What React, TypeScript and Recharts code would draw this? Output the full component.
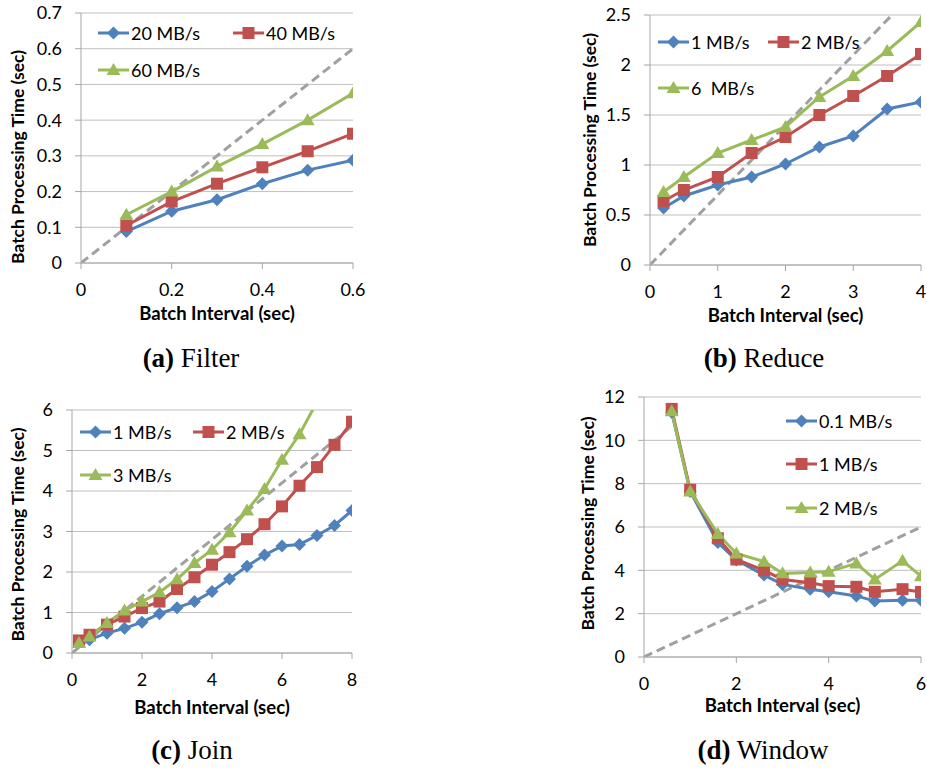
import React from "react";
import {
    LineChart,
    Line,
    XAxis,
    YAxis,
    CartesianGrid,
    Legend,
    ReferenceLine,
    Label,
} from "recharts";

// (a) Filter
const filterX = [0.1, 0.2, 0.3, 0.4, 0.5, 0.6];
const filter20 = [0.088, 0.145, 0.177, 0.222, 0.26, 0.288];
const filter40 = [0.105, 0.172, 0.222, 0.268, 0.313, 0.362];
const filter60 = [0.135, 0.2, 0.27, 0.333, 0.4, 0.475];
const filterGuide = [{ x: 0, y: 0 }, { x: 0.6, y: 0.6 }];

// (b) Reduce
const reduceX = [0.2, 0.5, 1, 1.5, 2, 2.5, 3, 3.5, 4];
const reduce1 = [0.57, 0.69, 0.8, 0.88, 1.01, 1.18, 1.29, 1.56, 1.63];
const reduce2 = [0.64, 0.75, 0.88, 1.12, 1.28, 1.5, 1.69, 1.89, 2.11];
const reduce6 = [0.73, 0.88, 1.12, 1.25, 1.38, 1.68, 1.89, 2.14, 2.43];
const reduceGuide = [{ x: 0, y: 0 }, { x: 4, y: 2.8 }];

// (c) Join
const joinX = [0.2, 0.5, 1, 1.5, 2, 2.5, 3, 3.5, 4, 4.5, 5, 5.5, 6, 6.5, 7, 7.5, 8];
const join1 = [0.28, 0.33, 0.49, 0.61, 0.76, 0.97, 1.12, 1.27, 1.52, 1.83, 2.14, 2.42, 2.64, 2.68, 2.9, 3.15, 3.52];
const join2 = [0.31, 0.45, 0.7, 0.9, 1.11, 1.27, 1.58, 1.87, 2.18, 2.49, 2.81, 3.18, 3.62, 4.13, 4.59, 5.14, 5.71];
const join3 = [0.25, 0.41, 0.74, 1.05, 1.27, 1.5, 1.82, 2.22, 2.55, 2.98, 3.52, 4.05, 4.77, 5.4, 6.2, null, null];
const joinGuide = [{ x: 0, y: 0 }, { x: 8, y: 5.6 }];

// (d) Window
const windowX = [0.6, 1, 1.6, 2, 2.6, 3, 3.6, 4, 4.6, 5, 5.6, 6];
const window01 = [11.3, 7.64, 5.28, 4.48, 3.78, 3.35, 3.13, 3.01, 2.82, 2.58, 2.62, 2.62];
const window1 = [11.45, 7.72, 5.48, 4.5, 4.0, 3.58, 3.43, 3.27, 3.24, 3.01, 3.13, 3.0];
const window2 = [11.34, 7.64, 5.68, 4.78, 4.4, 3.86, 3.9, 3.94, 4.32, 3.58, 4.44, 3.73];
const windowGuide = [{ x: 0, y: 0 }, { x: 6, y: 6 }];

const BLUE = "#4F81BD";
const RED = "#C0504D";
const GREEN = "#9BBB59";
const GRID = "#BFBFBF";
const AXIS = "#A6A6A6";
const GUIDE = "#A0A0A0";

const COLORS: Record<string, string> = { s1: BLUE, s2: RED, s3: GREEN };
const SHAPES: Record<string, string> = { s1: "diamond", s2: "square", s3: "triangle" };

const Marker = ({ cx, cy, shape, color }: any) => {
    if (cx == null || cy == null) return null;
    if (shape === "diamond") {
        return <path d={`M${cx},${cy - 6.5}L${cx + 6.5},${cy}L${cx},${cy + 6.5}L${cx - 6.5},${cy}Z`} fill={color} />;
    }
    if (shape === "square") {
        return <rect x={cx - 6} y={cy - 6} width={12} height={12} fill={color} />;
    }
    return <path d={`M${cx},${cy - 7}L${cx + 7},${cy + 5}L${cx - 7},${cy + 5}Z`} fill={color} />;
};

const dotFor = (key: string) => (p: any) => (
    <Marker key={`${key}-${p.index}`} cx={p.cx} cy={p.cy} shape={SHAPES[key]} color={COLORS[key]} />
);

const makeLegend = (colW: number, rowH: number, cols: number) => ({ payload }: any) => (
    <div style={{ display: "flex", flexWrap: "wrap", width: colW * cols }}>
        {(payload || []).map((entry: any) => (
            <div
                key={entry.dataKey}
                style={{ width: colW, height: rowH, display: "flex", alignItems: "center" }}
            >
                <svg width={32} height={16} style={{ flex: "none" }}>
                    <line x1={0} y1={8} x2={31} y2={8} stroke={COLORS[entry.dataKey]} strokeWidth={3} />
                    <Marker cx={15.5} cy={8} shape={SHAPES[entry.dataKey]} color={COLORS[entry.dataKey]} />
                </svg>
                <span style={{ fontSize: 18, color: "#000", whiteSpace: "pre", marginLeft: 1 }}>
                    {entry.value}
                </span>
            </div>
        ))}
    </div>
);

type PanelProps = {
    left: number;
    top: number;
    width: number;
    height: number;
    margin: { top: number; right: number };
    yWidth: number;
    xHeight: number;
    xs: number[];
    series: (number | null)[][];
    names: string[];
    xDomain: [number, number];
    xTicks: number[];
    yDomain: [number, number];
    yTicks: number[];
    guide: { x: number; y: number }[];
    xTitleOffset: number;
    yTitleDx: number;
    yTitleDy: number;
    legend: { left: number; top: number; colW: number; rowH: number; cols: number };
    overflowKey?: string;
};

const titleStyle = { fontWeight: 700, fontSize: 18.5, fill: "#000" };
const yTitleStyle = { fontWeight: 700, fontSize: 17.5, fill: "#000" };

const Panel = (p: PanelProps) => {
    const data = p.xs.map((x, i) => ({
        x,
        s1: p.series[0][i],
        s2: p.series[1][i],
        s3: p.series[2][i],
    }));
    const keys = ["s1", "s2", "s3"];
    return (
        <div style={{ position: "absolute", left: p.left, top: p.top }}>
            <LineChart
                width={p.width}
                height={p.height}
                data={data}
                margin={{ top: p.margin.top, right: p.margin.right, left: 0, bottom: 0 }}
            >
                <CartesianGrid vertical={false} stroke={GRID} strokeWidth={1} />
                <XAxis
                    dataKey="x"
                    type="number"
                    domain={p.xDomain}
                    ticks={p.xTicks}
                    height={p.xHeight}
                    stroke={AXIS}
                    tickSize={6}
                    tickMargin={14}
                    tick={{ fill: "#000", fontSize: 18 }}
                    allowDataOverflow
                >
                    <Label
                        value="Batch Interval (sec)"
                        position="insideBottom"
                        offset={p.xTitleOffset}
                        style={titleStyle}
                    />
                </XAxis>
                <YAxis
                    type="number"
                    domain={p.yDomain}
                    ticks={p.yTicks}
                    width={p.yWidth}
                    stroke={AXIS}
                    tickSize={6}
                    tickMargin={13}
                    tick={{ fill: "#000", fontSize: 18 }}
                >
                    <Label
                        value="Batch Processing Time (sec)"
                        position="center"
                        angle={-90}
                        dx={p.yTitleDx}
                        dy={p.yTitleDy}
                        style={yTitleStyle}
                    />
                </YAxis>
                <YAxis yAxisId="clip" hide type="number" domain={p.yDomain} allowDataOverflow />
                <ReferenceLine
                    segment={p.guide}
                    ifOverflow="hidden"
                    stroke={GUIDE}
                    strokeWidth={3}
                    strokeDasharray="9 5"
                />
                {keys.map((k, i) => (
                    <Line
                        key={k}
                        dataKey={k}
                        name={p.names[i]}
                        yAxisId={p.overflowKey === k ? "clip" : 0}
                        stroke={COLORS[k]}
                        strokeWidth={3}
                        dot={dotFor(k)}
                        activeDot={false}
                        isAnimationActive={false}
                    />
                ))}
                <Legend
                    layout="horizontal"
                    verticalAlign="middle"
                    align="center"
                    content={makeLegend(p.legend.colW, p.legend.rowH, p.legend.cols)}
                    wrapperStyle={{ left: p.legend.left, top: p.legend.top, width: p.legend.colW * p.legend.cols }}
                />
            </LineChart>
        </div>
    );
};

const Caption = ({ cx, cy, tag, text }: { cx: number; cy: number; tag: string; text: string }) => (
    <div
        style={{
            position: "absolute",
            left: cx - 150,
            top: cy - 16,
            width: 300,
            height: 32,
            lineHeight: "32px",
            textAlign: "center",
            fontFamily: "'Liberation Serif', 'Times New Roman', serif",
            fontSize: 27,
            color: "#000",
        }}
    >
        <b>{tag}</b> {text}
    </div>
);

export default function App() {
    return (
        <div
            style={{
                position: "absolute",
                left: 0,
                top: 0,
                width: 927,
                height: 769,
                background: "#fff",
                fontFamily: "Lato, 'Open Sans', sans-serif",
            }}
        >
            <Panel
                left={0}
                top={0}
                width={370}
                height={330}
                margin={{ top: 13, right: 17 }}
                yWidth={81}
                xHeight={67}
                xs={filterX}
                series={[filter20, filter40, filter60]}
                names={["20 MB/s", "40 MB/s", "60 MB/s"]}
                xDomain={[0, 0.6]}
                xTicks={[0, 0.2, 0.4, 0.6]}
                yDomain={[0, 0.7]}
                yTicks={[0, 0.1, 0.2, 0.3, 0.4, 0.5, 0.6, 0.7]}
                guide={filterGuide}
                xTitleOffset={10}
                yTitleDx={-22.5}
                yTitleDy={19}
                legend={{ left: 98, top: 14.5, colW: 135, rowH: 37, cols: 2 }}
            />
            <Panel
                left={470}
                top={0}
                width={457}
                height={330}
                margin={{ top: 15, right: 6 }}
                yWidth={180}
                xHeight={65}
                xs={reduceX}
                series={[reduce1, reduce2, reduce6]}
                names={["1 MB/s", "2 MB/s", "6  MB/s"]}
                xDomain={[0, 4]}
                xTicks={[0, 1, 2, 3, 4]}
                yDomain={[0, 2.5]}
                yTicks={[0, 0.5, 1, 1.5, 2, 2.5]}
                guide={reduceGuide}
                xTitleOffset={8}
                yTitleDx={30}
                yTitleDy={0}
                legend={{ left: 188, top: 19, colW: 110, rowH: 46, cols: 2 }}
            />
            <Panel
                left={0}
                top={380}
                width={370}
                height={350}
                margin={{ top: 30, right: 18 }}
                yWidth={72}
                xHeight={77}
                xs={joinX}
                series={[join1, join2, join3]}
                names={["1 MB/s", "2 MB/s", "3 MB/s"]}
                xDomain={[0, 8]}
                xTicks={[0, 2, 4, 6, 8]}
                yDomain={[0, 6]}
                yTicks={[0, 1, 2, 3, 4, 5, 6]}
                guide={joinGuide}
                xTitleOffset={16}
                yTitleDx={-18}
                yTitleDy={3}
                legend={{ left: 80, top: 30.5, colW: 113, rowH: 43, cols: 2 }}
                overflowKey="s3"
            />
            <Panel
                left={470}
                top={380}
                width={457}
                height={350}
                margin={{ top: 17, right: 6 }}
                yWidth={174}
                xHeight={73}
                xs={windowX}
                series={[window01, window1, window2]}
                names={["0.1 MB/s", "1 MB/s", "2 MB/s"]}
                xDomain={[0, 6]}
                xTicks={[0, 2, 4, 6]}
                yDomain={[0, 12]}
                yTicks={[0, 2, 4, 6, 8, 10, 12]}
                guide={windowGuide}
                xTitleOffset={18}
                yTitleDx={31}
                yTitleDy={-3.5}
                legend={{ left: 316, top: 19, colW: 130, rowH: 43.5, cols: 1 }}
            />
            <Caption cx={191} cy={358} tag="(a)" text="Filter" />
            <Caption cx={764} cy={358} tag="(b)" text="Reduce" />
            <Caption cx={192} cy={750} tag="(c)" text="Join" />
            <Caption cx={763} cy={750} tag="(d)" text="Window" />
        </div>
    );
}
